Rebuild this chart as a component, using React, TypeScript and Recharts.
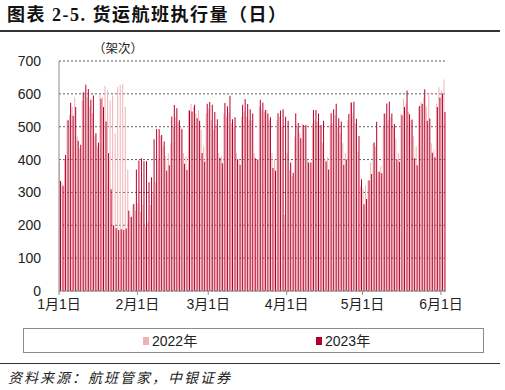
import React from 'react';
import { BarChart, Bar, XAxis, YAxis, CartesianGrid } from 'recharts';

// Daily executed cargo flights, Jan 1 - Jun 2 (day index 0..152)
const flights2022 = [
  393, 330, 400, 520, 536, 560, 590, 470, 434, 580,
  600, 590, 560, 540, 470, 440, 600, 590, 624, 612,
  580, 595, 480, 622, 627, 630, 560, 370, 226, 262,
  244, 266, 240, 262, 196, 210, 262, 300, 330, 400,
  472, 440, 410, 419, 450, 500, 530, 515, 500, 420,
  410, 550, 570, 560, 540, 550, 490, 440, 540, 555,
  520, 490, 500, 421, 410, 540, 530, 545, 510, 500,
  420, 400, 530, 545, 530, 520, 520, 420, 400, 561,
  550, 545, 551, 520, 420, 400, 520, 530, 500, 231,
  420, 368, 350, 470, 500, 480, 510, 500, 400, 390,
  510, 520, 516, 500, 450, 400, 407, 505, 510, 536,
  500, 480, 450, 421, 520, 574, 540, 510, 424, 318,
  312, 320, 338, 391, 448, 438, 363, 380, 500, 540,
  520, 530, 500, 464, 420, 540, 586, 570, 546, 520,
  470, 440, 560, 575, 590, 561, 601, 450, 430, 571,
  620, 611, 644,
];

const flights2023 = [
  335, 320, 414, 520, 573, 533, 560, 457, 445, 605,
  628, 615, 582, 595, 480, 452, 585, 560, 516, 419,
  310, 200, 191, 186, 188, 186, 190, 244, 226, 265,
  370, 397, 404, 395, 395, 331, 346, 462, 493, 492,
  475, 455, 366, 383, 531, 566, 556, 520, 492, 387,
  368, 549, 546, 567, 526, 518, 420, 393, 570, 575,
  567, 545, 523, 405, 389, 572, 562, 594, 523, 529,
  401, 384, 567, 584, 569, 553, 540, 404, 400, 582,
  574, 551, 540, 529, 374, 366, 541, 549, 553, 530,
  518, 391, 360, 541, 511, 465, 505, 505, 391, 391,
  551, 551, 540, 505, 518, 394, 370, 541, 553, 570,
  526, 516, 384, 400, 539, 574, 576, 524, 472, 340,
  264, 280, 336, 356, 452, 515, 363, 358, 540, 571,
  576, 540, 508, 400, 393, 535, 560, 610, 538, 522,
  404, 383, 563, 569, 614, 518, 525, 421, 407, 560,
  589, 601, 545,
];

const seriesNames = ['2022年', '2023年'];
const monthStartDays = [0, 31, 59, 90, 120, 151];
const monthTickLabels = ['1月1日', '2月1日', '3月1日', '4月1日', '5月1日', '6月1日'];
const yTicks = [0, 100, 200, 300, 400, 500, 600, 700];

const COLOR_2022 = '#F0B2B5';
const COLOR_2023 = '#B4002C';
const FONT = '"Liberation Sans", Arial, "Noto Sans CJK SC", sans-serif';

const data = flights2022.map((v, i) => ({ day: i, y2022: v, y2023: flights2023[i] }));
const totalDays = flights2022.length;

export default function App() {
  return (
    <div style={{ position: 'absolute', left: 0, top: 0, width: 505, height: 390, background: '#fff', fontFamily: FONT }}>
      <div
        style={{
          position: 'absolute', left: 7, top: 4, fontSize: 18, fontWeight: 700, letterSpacing: 1.5,
          fontFamily: '"Liberation Serif", "Noto Sans CJK SC", serif', color: '#111', whiteSpace: 'nowrap', lineHeight: '22px',
        }}
      >
        图表 2-5. 货运航班执行量（日）
      </div>
      <div style={{ position: 'absolute', left: 0, top: 30, width: 500, height: 1.5, background: '#333' }} />
      <div style={{ position: 'absolute', left: 93, top: 40, fontSize: 12.5, color: '#222', whiteSpace: 'nowrap', fontFamily: '"Noto Sans CJK SC", sans-serif', lineHeight: '16px' }}>
        （架次）
      </div>
      <BarChart
        width={505}
        height={390}
        data={data}
        margin={{ top: 61, right: 59, bottom: 69, left: 0 }}
        barGap={0}
        barCategoryGap="0%"
        style={{ position: 'absolute', left: 0, top: 0 }}
      >
        <CartesianGrid vertical={false} stroke="#333" strokeDasharray="2 2" strokeWidth={0.8} />
        <XAxis dataKey="day" type="category" hide height={0} />
        <XAxis
          xAxisId="date"
          dataKey="day"
          type="number"
          domain={[0, totalDays]}
          allowDataOverflow
          ticks={monthStartDays}
          interval={0}
          tickFormatter={(v: number) => monthTickLabels[monthStartDays.indexOf(v)]}
          height={30}
          tickSize={4}
          tickMargin={4}
          axisLine={{ stroke: '#8c8c8c' }}
          tickLine={{ stroke: '#8c8c8c' }}
          tick={{ fontSize: 14, fill: '#222', fontFamily: FONT }}
        />
        <YAxis
          width={59}
          domain={[0, 700]}
          ticks={yTicks}
          interval={0}
          tickSize={0}
          tickMargin={18}
          axisLine={{ stroke: '#8c8c8c' }}
          tickLine={false}
          tick={{ fontSize: 14, fill: '#222', fontFamily: FONT }}
        />
        <Bar dataKey="y2022" name={seriesNames[0]} fill={COLOR_2022} isAnimationActive={false} />
        <Bar dataKey="y2023" name={seriesNames[1]} fill={COLOR_2023} isAnimationActive={false} />
      </BarChart>
      <div style={{ position: 'absolute', left: 23, top: 328, width: 461, height: 25, border: '1px solid #8c8c8c', boxSizing: 'border-box' }} />
      <div style={{ position: 'absolute', left: 143, top: 337, width: 6, height: 8, background: COLOR_2022 }} />
      <div style={{ position: 'absolute', left: 152, top: 332, fontSize: 14, color: '#222', lineHeight: '18px', whiteSpace: 'nowrap' }}>{seriesNames[0]}</div>
      <div style={{ position: 'absolute', left: 316, top: 337, width: 6, height: 8, background: COLOR_2023 }} />
      <div style={{ position: 'absolute', left: 325, top: 332, fontSize: 14, color: '#222', lineHeight: '18px', whiteSpace: 'nowrap' }}>{seriesNames[1]}</div>
      <div style={{ position: 'absolute', left: 0, top: 363, width: 500, height: 1.2, background: '#333' }} />
      <div style={{ position: 'absolute', left: 8, top: 368, fontSize: 14, fontStyle: 'italic', letterSpacing: 2, color: '#222', whiteSpace: 'nowrap', lineHeight: '18px', fontFamily: '"Noto Sans CJK SC", sans-serif' }}>
        资料来源：航班管家，中银证券
      </div>
    </div>
  );
}
